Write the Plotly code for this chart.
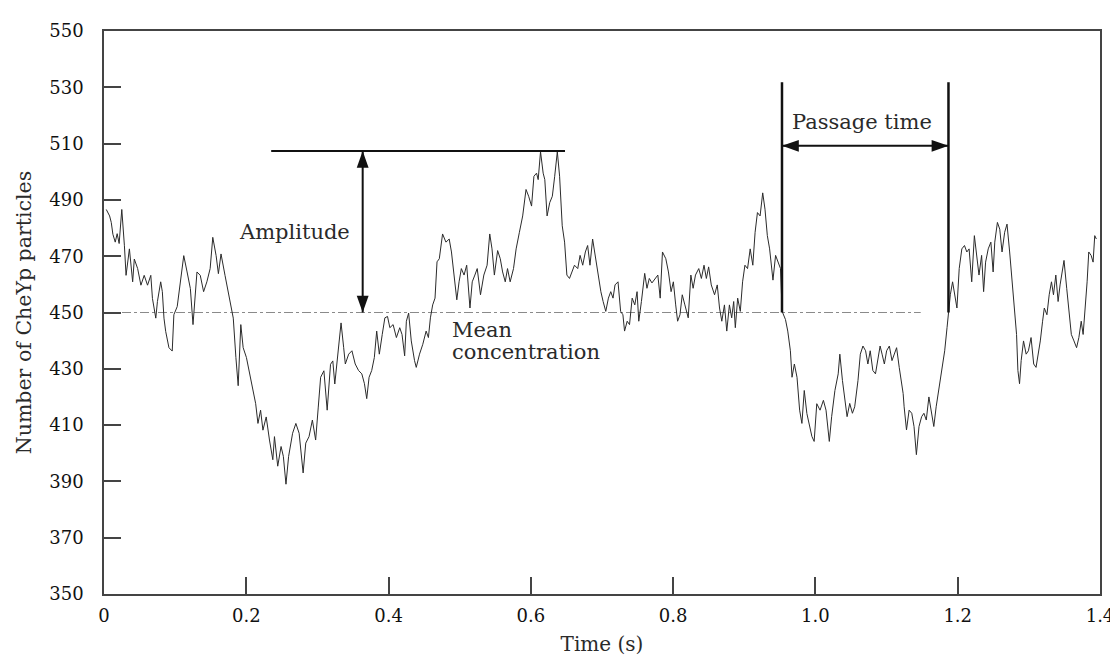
import plotly.graph_objects as go

# ---------------- data ----------------
time_s = [
    0.0032, 0.0079, 0.0102, 0.0125, 0.0158, 0.0185, 0.0213, 0.0250, 0.0287, 0.0310,
    0.0357, 0.0403, 0.0426, 0.0473, 0.0519, 0.0565, 0.0612, 0.0658, 0.0681, 0.0728,
    0.0751, 0.0797, 0.0820, 0.0843, 0.0867, 0.0913, 0.0959, 0.0982, 0.1029, 0.1075,
    0.1121, 0.1168, 0.1214, 0.1251, 0.1284, 0.1307, 0.1353, 0.1400, 0.1446, 0.1492,
    0.1529, 0.1576, 0.1608, 0.1645, 0.1701, 0.1747, 0.1784, 0.1817, 0.1854, 0.1886,
    0.1923, 0.1956, 0.2002, 0.2048, 0.2095, 0.2132, 0.2164, 0.2201, 0.2234, 0.2280,
    0.2326, 0.2373, 0.2396, 0.2442, 0.2489, 0.2521, 0.2558, 0.2595, 0.2651, 0.2697,
    0.2743, 0.2799, 0.2836, 0.2882, 0.2929, 0.2975, 0.3012, 0.3045, 0.3091, 0.3137,
    0.3184, 0.3216, 0.3244, 0.3290, 0.3332, 0.3369,
    0.3392, 0.3439, 0.3485, 0.3531, 0.3578, 0.3624, 0.3661, 0.3693, 0.3726, 0.3763,
    0.3800, 0.3833, 0.3870, 0.3911, 0.3948, 0.3985, 0.4018, 0.4064, 0.4110, 0.4157,
    0.4189, 0.4226, 0.4250, 0.4282, 0.4319, 0.4365, 0.4389, 0.4435, 0.4481, 0.4528,
    0.4560, 0.4588, 0.4620, 0.4653, 0.4681, 0.4713, 0.4759, 0.4806, 0.4852, 0.4884,
    0.4921, 0.4959, 0.4991, 0.5023, 0.5061, 0.5098, 0.5144, 0.5176, 0.5213, 0.5246,
    0.5292, 0.5339, 0.5385, 0.5422, 0.5454, 0.5487, 0.5533, 0.5570, 0.5603, 0.5640,
    0.5672, 0.5709, 0.5756, 0.5793, 0.5839, 0.5885, 0.5932, 0.5969, 0.6010, 0.6043,
    0.6080, 0.6103, 0.6136, 0.6173, 0.6196, 0.6228, 0.6265, 0.6302, 0.6335, 0.6372,
    0.6404, 0.6441, 0.6474, 0.6506, 0.6543, 0.6580, 0.6613, 0.6659, 0.6692, 0.6729,
    0.6766, 0.6798, 0.6831,
    0.6868, 0.6914, 0.6951, 0.6984, 0.7016, 0.7053, 0.7090, 0.7123, 0.7155, 0.7183,
    0.7225, 0.7262, 0.7294, 0.7317, 0.7354, 0.7387, 0.7424, 0.7461, 0.7493, 0.7517,
    0.7554, 0.7600, 0.7632, 0.7665, 0.7702, 0.7748, 0.7785, 0.7818, 0.7850, 0.7897,
    0.7934, 0.7971, 0.8003, 0.8036, 0.8063, 0.8096, 0.8128, 0.8165, 0.8212, 0.8249,
    0.8281, 0.8314, 0.8360, 0.8397, 0.8434, 0.8467, 0.8499, 0.8536, 0.8582, 0.8620,
    0.8652, 0.8684, 0.8721, 0.8754, 0.8791, 0.8823, 0.8851, 0.8874, 0.8907, 0.8944,
    0.8976, 0.9009, 0.9046, 0.9083, 0.9120, 0.9152, 0.9185, 0.9222, 0.9259, 0.9291,
    0.9324, 0.9356, 0.9403, 0.9440, 0.9472, 0.9509, 0.9532, 0.9579, 0.9611, 0.9648,
    0.9671, 0.9704, 0.9741, 0.9778, 0.9810, 0.9843, 0.9880, 0.9917, 0.9950, 0.9982,
    1.0019, 1.0065, 1.0112, 1.0149, 1.0167, 1.0195, 1.0228, 1.0274, 1.0320,
    1.0343, 1.0380, 1.0413, 1.0445, 1.0482, 1.0520, 1.0552, 1.0598, 1.0631, 1.0668,
    1.0705, 1.0737, 1.0770, 1.0807, 1.0844, 1.0876, 1.0909, 1.0937, 1.0969, 1.1001,
    1.1039, 1.1076, 1.1108, 1.1141, 1.1178, 1.1205, 1.1233, 1.1247, 1.1280, 1.1317,
    1.1354, 1.1386, 1.1419, 1.1456, 1.1493, 1.1525, 1.1558, 1.1595, 1.1632, 1.1664,
    1.1697, 1.1734, 1.1780, 1.1817, 1.1850, 1.1873, 1.1896, 1.1928, 1.1956, 1.1989,
    1.2021, 1.2058, 1.2095, 1.2128, 1.2160, 1.2197, 1.2234, 1.2267, 1.2299, 1.2336,
    1.2364, 1.2392, 1.2429, 1.2466, 1.2498, 1.2521, 1.2558, 1.2591, 1.2623, 1.2660,
    1.2693, 1.2730, 1.2762, 1.2799, 1.2827, 1.2846, 1.2869, 1.2892, 1.2925, 1.2962,
    1.2994, 1.3031, 1.3068, 1.3101, 1.3133, 1.3161, 1.3193, 1.3217, 1.3254, 1.3286,
    1.3318, 1.3346, 1.3379, 1.3411, 1.3439, 1.3471, 1.3494, 1.3532, 1.3564, 1.3597,
    1.3634, 1.3671, 1.3703, 1.3736, 1.3763, 1.3796, 1.3819, 1.3842, 1.3875, 1.3903,
    1.3926, 1.3949,
]

cheyp_count = [
    486.6, 484.3, 482.0, 477.8, 475.0, 478.0, 474.5, 486.6, 473.7, 463.2,
    472.6, 460.9, 469.0, 465.6, 459.7, 463.2, 459.7, 463.2, 455.0, 448.0,
    453.9, 460.9, 457.4, 448.0, 443.3, 437.5, 436.3, 449.2, 452.1, 462.0,
    470.2, 464.4, 458.5, 445.7, 457.4, 464.4, 463.2, 457.4, 460.9, 465.6,
    476.7, 470.2, 463.8, 470.8, 463.2, 457.4, 451.5, 448.0, 434.0, 424.0,
    445.7, 437.5, 434.0, 428.1, 422.3, 417.6, 410.6, 415.3, 408.2, 412.9,
    404.7, 397.7, 405.9, 395.4, 402.4, 398.9, 389.0, 398.9, 407.1, 410.6,
    407.1, 393.0, 403.6, 405.9, 411.8, 404.7, 416.4, 427.0, 429.3, 415.3,
    431.6, 432.8, 424.6, 435.1, 446.3, 437.5,
    431.7, 435.2, 436.4, 431.7, 429.4, 428.2, 424.7, 419.4, 427.0, 429.4,
    434.0, 443.4, 435.2, 442.2, 448.1, 448.6, 444.6, 445.7, 441.1, 444.6,
    442.2, 434.6, 446.9, 449.8, 439.9, 432.9, 430.5, 435.2, 438.7, 443.4,
    441.1, 448.1, 452.7, 455.1, 468.0, 469.1, 477.9, 475.0, 476.1, 471.5,
    462.1, 454.5, 460.9, 465.6, 463.3, 466.8, 451.6, 460.9, 463.3, 465.6,
    456.3, 463.3, 466.8, 477.9, 472.6, 463.3, 472.0, 469.1, 464.4, 460.9,
    465.6, 460.9, 465.6, 472.6, 478.5, 484.3, 493.7, 491.3, 487.8, 498.4,
    499.5, 497.2, 507.1, 499.5, 497.2, 484.3, 489.0, 491.3, 498.4, 507.1,
    498.4, 480.8, 475.0, 463.3, 462.1, 464.4, 466.8, 465.6, 470.3, 466.8,
    471.5, 473.8, 466.8,
    476.1, 469.1, 462.1, 457.4, 453.9, 450.4, 455.1, 457.4, 455.1, 459.8,
    460.9, 450.4, 449.2, 443.4, 446.9, 445.7, 455.1, 452.7, 457.4, 446.9,
    453.9, 463.9, 458.6, 462.1, 460.5, 462.1, 463.3, 455.1, 471.5, 469.1,
    464.4, 457.4, 460.9, 452.7, 446.9, 449.2, 456.3, 452.7, 448.1, 463.3,
    458.6, 463.3, 465.6, 462.1, 466.8, 462.1, 466.2, 459.8, 456.3, 459.8,
    451.6, 446.9, 452.7, 443.4, 452.7, 448.1, 453.9, 444.6, 455.1, 450.4,
    460.9, 466.8, 465.6, 472.6, 466.8, 478.5, 485.5, 484.3, 492.5, 486.7,
    477.3, 472.6, 461.5, 470.3, 467.9, 465.6, 450.4, 447.5, 443.4, 436.4,
    427.0, 431.7, 427.0, 415.3, 410.6, 422.3, 414.1, 409.5, 406.0, 404.2,
    417.6, 415.3, 418.8, 415.3, 410.6, 404.2, 413.0, 422.3, 428.2,
    435.2, 425.8, 420.0, 413.0, 417.7, 414.2, 416.5, 425.8, 435.2, 438.1,
    436.4, 431.7, 436.4, 429.4, 428.2, 432.9, 438.1, 435.2, 431.7, 436.4,
    438.1, 432.9, 435.2, 437.5, 430.5, 425.8, 421.2, 416.5, 408.3, 415.3,
    414.2, 409.5, 399.5, 409.5, 413.0, 414.2, 411.8, 420.0, 414.2, 409.5,
    416.5, 422.3, 430.5, 436.4, 444.6, 450.4, 456.3, 460.9, 456.3, 451.6,
    465.6, 472.6, 473.8, 471.5, 472.6, 460.9, 477.3, 469.1, 463.3, 470.3,
    457.4, 467.9, 472.6, 475.0, 464.4, 475.0, 482.0, 479.6, 471.5, 478.5,
    481.4, 471.5, 462.1, 451.6, 442.2, 429.4, 424.7, 432.9, 439.9, 435.2,
    436.4, 441.1, 431.7, 430.5, 435.2, 439.9, 446.9, 451.6, 449.2, 456.3,
    460.9, 456.3, 463.3, 453.9, 459.8, 464.4, 468.5, 458.6, 451.6, 442.2,
    439.9, 437.5, 441.1, 446.9, 442.2, 451.6, 460.9, 471.5, 470.3, 467.9,
    477.3, 476.1,
]

# annotation values
mean_level = 450
mean_line_end = 1.148
amp_line_t = [0.235, 0.648]
amp_peak = 507.4
amp_arrow_t = 0.3636
passage_t = [0.953, 1.187]
passage_top = 531.8
passage_arrow_y = 509.2

x_tickvals = [0, 0.2, 0.4, 0.6, 0.8, 1.0, 1.2, 1.4]
x_ticktext = ["0", "0.2", "0.4", "0.6", "0.8", "1.0", "1.2", "1.4"]
y_tickvals = [350, 370, 390, 410, 430, 450, 470, 490, 510, 530, 550]

# ---------------- layout geometry ----------------
W, H = 1118, 656
M = dict(l=96, r=15, t=20, b=67)
XR = [0, 1.4]
YR = [350, 550]
PX_X = (W - M["l"] - M["r"]) / (XR[1] - XR[0])
PX_Y = (H - M["t"] - M["b"]) / (YR[1] - YR[0])

FONT = "DejaVu Serif"
INK = "#111111"
TEXT = "#2a2a2a"


def head(tx, ty, direction, length=17, half=6):
    """Filled triangular arrow head with tip at (tx, ty), sized in pixels."""
    lx, ly = length / PX_X, length / PX_Y
    hx, hy = half / PX_X, half / PX_Y
    if direction == "up":
        pts = [(tx, ty), (tx - hx, ty - ly), (tx + hx, ty - ly)]
    elif direction == "down":
        pts = [(tx, ty), (tx - hx, ty + ly), (tx + hx, ty + ly)]
    elif direction == "left":
        pts = [(tx, ty), (tx + lx, ty - hy), (tx + lx, ty + hy)]
    else:
        pts = [(tx, ty), (tx - lx, ty - hy), (tx - lx, ty + hy)]
    path = "M{},{} L{},{} L{},{} Z".format(*[v for p in pts for v in p])
    return dict(type="path", path=path, xref="x", yref="y",
                fillcolor=INK, line=dict(width=0), layer="above")


def seg(x0, y0, x1, y1, width=2, color=INK, dash="solid", layer="above"):
    return dict(type="line", x0=x0, y0=y0, x1=x1, y1=y1, xref="x", yref="y",
                line=dict(color=color, width=width, dash=dash), layer=layer)


shapes = [
    # mean concentration line
    seg(XR[0], mean_level, mean_line_end, mean_level, width=1,
        color="#8a8a8a", dash="dashdot", layer="below"),
    # amplitude
    seg(amp_line_t[0], amp_peak, amp_line_t[1], amp_peak, width=2),
    seg(amp_arrow_t, mean_level, amp_arrow_t, amp_peak, width=2),
    head(amp_arrow_t, amp_peak, "up"),
    head(amp_arrow_t, mean_level, "down"),
    # passage time
    seg(passage_t[0], mean_level, passage_t[0], passage_top, width=2.5),
    seg(passage_t[1], mean_level, passage_t[1], passage_top, width=2.5),
    seg(passage_t[0], passage_arrow_y, passage_t[1], passage_arrow_y, width=2),
    head(passage_t[0], passage_arrow_y, "left"),
    head(passage_t[1], passage_arrow_y, "right"),
]

ann_font = dict(family=FONT, size=21, color=TEXT)
annotations = [
    dict(text="Amplitude", x=0.2676, y=478.6, xref="x", yref="y",
         showarrow=False, xanchor="center", yanchor="middle", font=ann_font),
    dict(text="Mean", x=0.4921, y=443.9, xref="x", yref="y", xshift=-4,
         showarrow=False, xanchor="left", yanchor="middle", font=ann_font),
    dict(text="concentration", x=0.4921, y=435.8, xref="x", yref="y", xshift=-4,
         showarrow=False, xanchor="left", yanchor="middle", font=ann_font),
    dict(text="Passage time", x=1.0649, y=517.5, xref="x", yref="y",
         showarrow=False, xanchor="center", yanchor="middle", font=ann_font),
]

fig = go.Figure()
fig.add_trace(go.Scatter(
    x=time_s, y=cheyp_count, mode="lines",
    line=dict(color="#2b2b2b", width=1),
    showlegend=False, hoverinfo="x+y",
))

axis_common = dict(
    showline=True, linecolor="#444444", linewidth=1.5, mirror=True,
    ticks="inside", ticklen=17, tickwidth=1.5, tickcolor="#444444",
    showgrid=False, zeroline=False,
    tickfont=dict(family=FONT, size=18, color=INK),
)

fig.update_layout(
    width=W, height=H,
    margin=M,
    paper_bgcolor="white", plot_bgcolor="white",
    xaxis=dict(range=XR, tickvals=x_tickvals, ticktext=x_ticktext,
               ticklabelstandoff=5,
               title=dict(text="Time (s)", standoff=12,
                          font=dict(family=FONT, size=20, color=TEXT)),
               **axis_common),
    yaxis=dict(range=YR, tickvals=y_tickvals, ticklabelstandoff=15,
               title=dict(text="Number of CheYp particles", standoff=12,
                          font=dict(family=FONT, size=20.5, color=TEXT)),
               **axis_common),
    shapes=shapes,
    annotations=annotations,
)

fig.write_html("out.html")
